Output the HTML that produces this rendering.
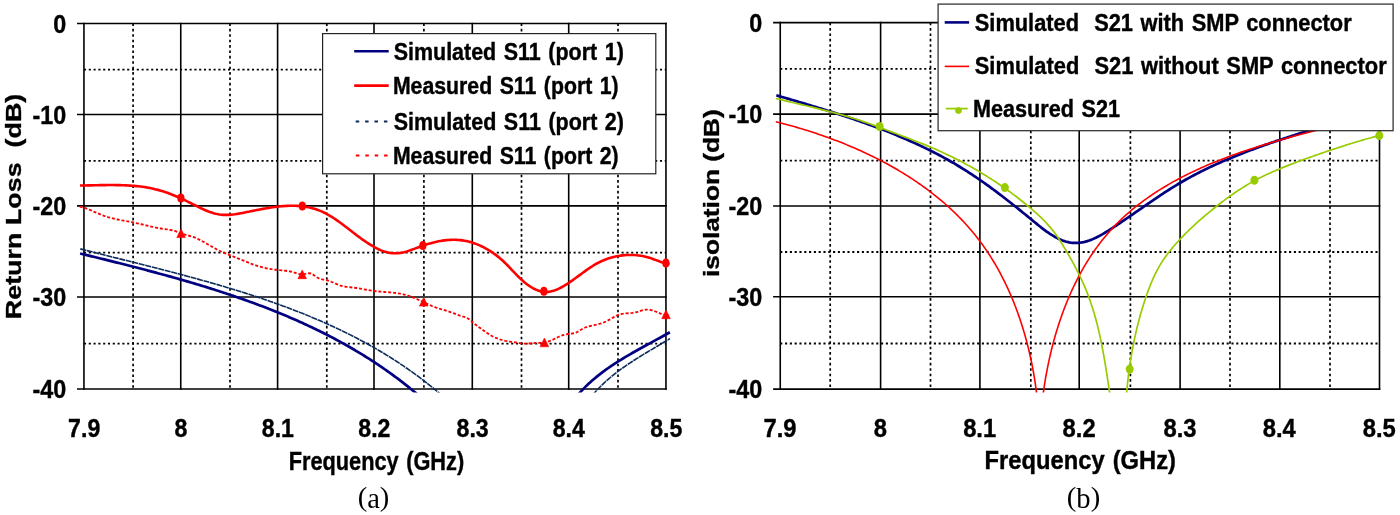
<!DOCTYPE html>
<html><head><meta charset="utf-8"><title>S-parameter charts</title>
<style>html,body{margin:0;padding:0;background:#fff;width:1400px;height:515px;overflow:hidden}svg{display:block}</style>
</head><body>
<svg width="1400" height="515" viewBox="0 0 1400 515">
<defs>
<clipPath id="cl"><rect x="70" y="0" width="602" height="392.6"/></clipPath>
<clipPath id="cr"><rect x="770" y="0" width="620" height="392.6"/></clipPath>
<filter id="soft" x="0" y="0" width="100%" height="100%" filterUnits="userSpaceOnUse"><feGaussianBlur stdDeviation="0.4"/></filter>
</defs>
<style>
.mj{stroke:#000;stroke-width:1.6;fill:none}
.mn{stroke:#000;stroke-width:1.7;stroke-dasharray:2.6 2.8;fill:none}
.mnh{stroke:#000;stroke-width:1.8;stroke-dasharray:2.1 2.7;fill:none}
</style>
<rect width="1400" height="515" fill="#fff"/>
<g filter="url(#soft)">
<line x1="133.10" y1="23.43" x2="133.10" y2="389.00" class="mn"/>
<line x1="230.00" y1="23.43" x2="230.00" y2="389.00" class="mn"/>
<line x1="326.80" y1="23.43" x2="326.80" y2="389.00" class="mn"/>
<line x1="423.90" y1="23.43" x2="423.90" y2="389.00" class="mn"/>
<line x1="521.50" y1="23.43" x2="521.50" y2="389.00" class="mn"/>
<line x1="618.00" y1="23.43" x2="618.00" y2="389.00" class="mn"/>
<line x1="83.95" y1="69.60" x2="665.95" y2="69.60" class="mnh"/>
<line x1="83.95" y1="160.80" x2="665.95" y2="160.80" class="mnh"/>
<line x1="83.95" y1="252.70" x2="665.95" y2="252.70" class="mnh"/>
<line x1="83.95" y1="343.70" x2="665.95" y2="343.70" class="mnh"/>
<line x1="83.95" y1="22.63" x2="83.95" y2="389.80" class="mj"/>
<line x1="180.75" y1="22.63" x2="180.75" y2="389.80" class="mj"/>
<line x1="277.60" y1="22.63" x2="277.60" y2="389.80" class="mj"/>
<line x1="374.00" y1="22.63" x2="374.00" y2="389.80" class="mj"/>
<line x1="472.30" y1="22.63" x2="472.30" y2="389.80" class="mj"/>
<line x1="568.70" y1="22.63" x2="568.70" y2="389.80" class="mj"/>
<line x1="665.95" y1="22.63" x2="665.95" y2="389.80" class="mj"/>
<line x1="77.00" y1="23.43" x2="666.75" y2="23.43" class="mj"/>
<line x1="77.00" y1="114.56" x2="666.75" y2="114.56" class="mj"/>
<line x1="77.00" y1="205.85" x2="666.75" y2="205.85" class="mj"/>
<line x1="77.00" y1="297.00" x2="666.75" y2="297.00" class="mj"/>
<line x1="77.00" y1="389.00" x2="666.75" y2="389.00" class="mj"/>
<line x1="830.20" y1="22.67" x2="830.20" y2="389.10" class="mn"/>
<line x1="930.50" y1="22.67" x2="930.50" y2="389.10" class="mn"/>
<line x1="1030.80" y1="22.67" x2="1030.80" y2="389.10" class="mn"/>
<line x1="1130.40" y1="22.67" x2="1130.40" y2="389.10" class="mn"/>
<line x1="1230.00" y1="22.67" x2="1230.00" y2="389.10" class="mn"/>
<line x1="1330.00" y1="22.67" x2="1330.00" y2="389.10" class="mn"/>
<line x1="780.25" y1="68.90" x2="1379.50" y2="68.90" class="mnh"/>
<line x1="780.25" y1="160.60" x2="1379.50" y2="160.60" class="mnh"/>
<line x1="780.25" y1="252.00" x2="1379.50" y2="252.00" class="mnh"/>
<line x1="780.25" y1="343.50" x2="1379.50" y2="343.50" class="mnh"/>
<line x1="780.25" y1="21.87" x2="780.25" y2="389.90" class="mj"/>
<line x1="880.60" y1="21.87" x2="880.60" y2="389.90" class="mj"/>
<line x1="979.90" y1="21.87" x2="979.90" y2="389.90" class="mj"/>
<line x1="1079.20" y1="21.87" x2="1079.20" y2="389.90" class="mj"/>
<line x1="1180.10" y1="21.87" x2="1180.10" y2="389.90" class="mj"/>
<line x1="1279.80" y1="21.87" x2="1279.80" y2="389.90" class="mj"/>
<line x1="1379.50" y1="21.87" x2="1379.50" y2="389.90" class="mj"/>
<line x1="773.10" y1="22.67" x2="1380.30" y2="22.67" class="mj"/>
<line x1="773.10" y1="114.15" x2="1380.30" y2="114.15" class="mj"/>
<line x1="773.10" y1="206.03" x2="1380.30" y2="206.03" class="mj"/>
<line x1="773.10" y1="296.80" x2="1380.30" y2="296.80" class="mj"/>
<line x1="773.10" y1="389.10" x2="1380.30" y2="389.10" class="mj"/>
<g clip-path="url(#cl)">
<path d="M80.29,248.90 L82.21,249.39 L84.13,249.88 L86.05,250.37 L87.97,250.86 L89.89,251.35 L91.82,251.84 L93.74,252.32 L95.67,252.81 L97.60,253.30 L99.53,253.78 L101.46,254.27 L103.40,254.76 L105.33,255.24 L107.26,255.73 L109.20,256.21 L111.14,256.70 L113.08,257.18 L115.02,257.67 L116.96,258.15 L118.90,258.64 L120.84,259.12 L122.78,259.61 L124.73,260.10 L126.67,260.58 L128.62,261.07 L130.56,261.56 L132.51,262.05 L134.46,262.54 L136.41,263.03 L138.35,263.52 L140.30,264.01 L142.25,264.50 L144.20,264.99 L146.15,265.49 L148.11,265.98 L150.06,266.48 L152.01,266.97 L153.96,267.47 L155.91,267.97 L157.87,268.47 L159.82,268.97 L161.77,269.48 L163.72,269.98 L165.68,270.49 L167.63,270.99 L169.58,271.50 L171.54,272.01 L173.49,272.52 L175.44,273.04 L177.39,273.55 L179.35,274.07 L181.30,274.59 L183.25,275.11 L185.20,275.63 L187.15,276.16 L189.11,276.69 L191.06,277.22 L193.01,277.75 L194.96,278.28 L196.91,278.82 L198.85,279.36 L200.80,279.90 L202.75,280.44 L204.70,280.99 L206.64,281.53 L208.59,282.08 L210.53,282.64 L212.48,283.19 L214.42,283.75 L216.36,284.32 L218.31,284.88 L220.25,285.45 L222.19,286.02 L224.12,286.59 L226.06,287.17 L228.00,287.75 L229.93,288.33 L231.87,288.92 L233.80,289.51 L235.73,290.10 L237.66,290.70 L239.59,291.30 L241.52,291.90 L243.45,292.51 L245.37,293.12 L247.30,293.73 L249.22,294.35 L251.14,294.97 L253.06,295.59 L254.98,296.22 L256.89,296.86 L258.81,297.49 L260.72,298.13 L262.63,298.78 L264.54,299.43 L266.45,300.08 L268.35,300.74 L270.26,301.40 L272.16,302.07 L274.06,302.74 L275.95,303.41 L277.85,304.09 L279.74,304.78 L281.64,305.46 L283.53,306.16 L285.41,306.86 L287.30,307.56 L289.18,308.27 L291.06,308.98 L292.94,309.70 L294.82,310.42 L296.69,311.15 L298.56,311.88 L300.43,312.62 L302.30,313.36 L304.16,314.11 L306.02,314.86 L307.88,315.62 L309.74,316.38 L311.59,317.15 L313.44,317.93 L315.29,318.71 L317.14,319.49 L318.98,320.28 L320.82,321.08 L322.66,321.88 L324.49,322.69 L326.32,323.51 L328.15,324.33 L329.97,325.16 L331.80,325.99 L333.62,326.83 L335.43,327.67 L337.24,328.52 L339.05,329.38 L340.86,330.24 L342.66,331.11 L344.46,331.99 L346.26,332.87 L348.05,333.76 L349.84,334.66 L351.63,335.56 L353.41,336.47 L355.19,337.38 L356.96,338.31 L358.74,339.24 L360.50,340.17 L362.27,341.11 L364.03,342.06 L365.79,343.02 L367.54,343.99 L369.29,344.96 L371.04,345.94 L372.78,346.92 L374.52,347.91 L376.25,348.91 L377.98,349.92 L379.71,350.94 L381.43,351.96 L383.15,352.99 L384.86,354.03 L386.57,355.07 L388.28,356.12 L389.98,357.19 L391.67,358.25 L393.37,359.33 L395.05,360.41 L396.74,361.51 L398.42,362.61 L400.09,363.72 L401.76,364.83 L403.43,365.96 L405.09,367.09 L406.75,368.23 L408.40,369.38 L410.05,370.54 L411.69,371.70 L413.33,372.88 L414.96,374.06 L416.59,375.25 L418.22,376.45 L419.83,377.66 L421.45,378.88 L423.06,380.11 L424.66,381.34 L426.26,382.59 L427.85,383.84 L429.44,385.10 L431.03,386.38 L432.60,387.66 L434.18,388.95 L435.75,390.25 L437.31,391.55 L438.87,392.87 L440.42,394.20" stroke="#0b2b5b" stroke-width="1.6" stroke-dasharray="6 0.7" fill="none"/>
<path d="M592.57,395.09 L593.91,393.51 L595.28,391.96 L596.66,390.43 L598.07,388.93 L599.50,387.45 L600.95,386.00 L602.42,384.57 L603.91,383.16 L605.41,381.78 L606.93,380.41 L608.47,379.07 L610.03,377.74 L611.60,376.43 L613.19,375.15 L614.79,373.88 L616.40,372.62 L618.03,371.39 L619.67,370.17 L621.32,368.96 L622.98,367.77 L624.66,366.59 L626.34,365.43 L628.04,364.28 L629.74,363.14 L631.45,362.01 L633.17,360.89 L634.89,359.78 L636.63,358.68 L638.37,357.59 L640.11,356.50 L641.86,355.43 L643.61,354.36 L645.37,353.29 L647.13,352.23 L648.89,351.18 L650.65,350.12 L652.42,349.07 L654.18,348.03 L655.95,346.98 L657.71,345.94 L659.47,344.89 L661.24,343.85 L662.99,342.80 L664.75,341.76 L666.50,340.71 L668.25,339.65 L669.99,338.60" stroke="#0b2b5b" stroke-width="1.6" stroke-dasharray="6 0.7" fill="none"/>
<path d="M80.12,253.49 L82.05,253.96 L83.98,254.43 L85.91,254.90 L87.84,255.38 L89.77,255.85 L91.71,256.32 L93.64,256.80 L95.58,257.27 L97.51,257.75 L99.45,258.23 L101.39,258.71 L103.33,259.18 L105.27,259.67 L107.21,260.15 L109.15,260.63 L111.10,261.11 L113.04,261.60 L114.98,262.08 L116.93,262.57 L118.87,263.06 L120.82,263.55 L122.76,264.04 L124.71,264.53 L126.66,265.03 L128.60,265.52 L130.55,266.02 L132.50,266.52 L134.44,267.02 L136.39,267.52 L138.34,268.03 L140.29,268.54 L142.24,269.04 L144.19,269.55 L146.13,270.07 L148.08,270.58 L150.03,271.10 L151.98,271.61 L153.93,272.13 L155.88,272.66 L157.82,273.18 L159.77,273.71 L161.72,274.24 L163.67,274.77 L165.61,275.30 L167.56,275.84 L169.50,276.38 L171.45,276.92 L173.39,277.47 L175.34,278.01 L177.28,278.56 L179.23,279.12 L181.17,279.67 L183.11,280.23 L185.05,280.79 L186.99,281.35 L188.93,281.92 L190.87,282.49 L192.81,283.06 L194.75,283.64 L196.69,284.22 L198.62,284.80 L200.56,285.39 L202.49,285.98 L204.42,286.57 L206.36,287.16 L208.29,287.76 L210.22,288.37 L212.14,288.97 L214.07,289.58 L216.00,290.20 L217.92,290.81 L219.85,291.43 L221.77,292.06 L223.69,292.68 L225.61,293.32 L227.52,293.95 L229.44,294.59 L231.36,295.24 L233.27,295.88 L235.18,296.54 L237.09,297.19 L239.00,297.85 L240.90,298.52 L242.81,299.18 L244.71,299.86 L246.61,300.53 L248.51,301.21 L250.41,301.90 L252.30,302.59 L254.20,303.29 L256.09,303.98 L257.98,304.69 L259.87,305.40 L261.75,306.11 L263.63,306.83 L265.52,307.55 L267.39,308.28 L269.27,309.01 L271.15,309.75 L273.02,310.49 L274.89,311.24 L276.75,311.99 L278.62,312.75 L280.48,313.51 L282.34,314.28 L284.20,315.05 L286.05,315.83 L287.91,316.61 L289.75,317.40 L291.60,318.20 L293.45,319.00 L295.29,319.80 L297.13,320.61 L298.96,321.43 L300.79,322.25 L302.62,323.08 L304.45,323.91 L306.28,324.75 L308.10,325.60 L309.92,326.45 L311.73,327.31 L313.54,328.17 L315.35,329.04 L317.16,329.91 L318.96,330.80 L320.76,331.68 L322.56,332.58 L324.35,333.48 L326.14,334.38 L327.92,335.29 L329.71,336.21 L331.49,337.14 L333.26,338.07 L335.03,339.01 L336.80,339.95 L338.57,340.90 L340.33,341.86 L342.09,342.83 L343.84,343.80 L345.59,344.77 L347.34,345.76 L349.08,346.75 L350.82,347.75 L352.55,348.76 L354.29,349.77 L356.01,350.79 L357.74,351.81 L359.46,352.85 L361.17,353.89 L362.88,354.94 L364.59,355.99 L366.29,357.06 L367.99,358.13 L369.68,359.20 L371.37,360.29 L373.06,361.38 L374.74,362.48 L376.42,363.59 L378.09,364.70 L379.76,365.83 L381.42,366.96 L383.08,368.10 L384.74,369.24 L386.39,370.40 L388.03,371.56 L389.67,372.73 L391.31,373.91 L392.94,375.09 L394.57,376.29 L396.19,377.49 L397.81,378.70 L399.42,379.92 L401.03,381.15 L402.63,382.38 L404.23,383.63 L405.82,384.88 L407.41,386.14 L408.99,387.41 L410.56,388.69 L412.14,389.97 L413.70,391.27 L415.27,392.57 L416.82,393.88 L418.37,395.20" stroke="#000080" stroke-width="2.7" fill="none"/>
<path d="M577.43,395.45 L578.78,393.88 L580.16,392.34 L581.55,390.82 L582.97,389.33 L584.40,387.86 L585.85,386.41 L587.33,384.98 L588.82,383.58 L590.33,382.20 L591.85,380.84 L593.39,379.50 L594.95,378.18 L596.52,376.88 L598.11,375.60 L599.72,374.33 L601.33,373.09 L602.96,371.86 L604.61,370.65 L606.26,369.45 L607.93,368.27 L609.61,367.10 L611.30,365.95 L613.00,364.81 L614.71,363.69 L616.43,362.57 L618.16,361.47 L619.90,360.38 L621.64,359.31 L623.39,358.24 L625.15,357.18 L626.92,356.13 L628.69,355.09 L630.47,354.06 L632.25,353.03 L634.03,352.02 L635.82,351.01 L637.61,350.00 L639.41,349.00 L641.21,348.01 L643.01,347.02 L644.81,346.03 L646.61,345.05 L648.41,344.07 L650.21,343.09 L652.01,342.11 L653.81,341.13 L655.60,340.16 L657.40,339.18 L659.19,338.20 L660.98,337.23 L662.76,336.25 L664.54,335.26 L666.32,334.28 L668.09,333.29 L669.85,332.30" stroke="#000080" stroke-width="2.7" fill="none"/>
<path d="M79.70,206.61 L81.65,207.07 L83.58,207.62 L85.49,208.24 L87.38,208.92 L89.26,209.65 L91.12,210.43 L92.98,211.23 L94.83,212.04 L96.68,212.85 L98.54,213.66 L100.40,214.45 L102.27,215.20 L104.15,215.90 L106.05,216.55 L107.96,217.15 L109.88,217.70 L111.82,218.20 L113.77,218.67 L115.72,219.11 L117.69,219.52 L119.66,219.92 L121.63,220.29 L123.61,220.66 L125.59,221.02 L127.56,221.38 L129.54,221.75 L131.52,222.12 L133.49,222.52 L135.46,222.93 L137.42,223.36 L139.38,223.80 L141.33,224.25 L143.29,224.71 L145.24,225.17 L147.20,225.63 L149.16,226.08 L151.11,226.53 L153.07,226.97 L155.04,227.39 L157.01,227.79 L158.98,228.18 L160.96,228.53 L162.94,228.87 L164.94,229.17 L166.94,229.43 L168.94,229.70 L170.92,230.01 L172.88,230.41 L174.79,230.95 L176.67,231.62 L178.52,232.36 L180.38,233.10 L182.26,233.78 L184.18,234.37 L186.11,234.92 L188.05,235.44 L189.98,235.99 L191.90,236.57 L193.79,237.24 L195.64,237.97 L197.47,238.77 L199.28,239.63 L201.07,240.54 L202.85,241.49 L204.61,242.47 L206.37,243.47 L208.12,244.49 L209.86,245.51 L211.62,246.52 L213.37,247.52 L215.14,248.50 L216.91,249.45 L218.71,250.36 L220.52,251.23 L222.34,252.06 L224.18,252.86 L226.03,253.64 L227.88,254.39 L229.75,255.13 L231.62,255.86 L233.49,256.59 L235.36,257.31 L237.24,258.05 L239.11,258.79 L240.98,259.54 L242.84,260.31 L244.70,261.08 L246.57,261.86 L248.43,262.62 L250.30,263.37 L252.18,264.10 L254.06,264.79 L255.96,265.45 L257.87,266.06 L259.79,266.63 L261.73,267.15 L263.67,267.64 L265.63,268.08 L267.59,268.48 L269.56,268.85 L271.54,269.18 L273.53,269.47 L275.52,269.74 L277.52,269.97 L279.52,270.18 L281.52,270.37 L283.53,270.57 L285.52,270.79 L287.52,271.05 L289.50,271.36 L291.47,271.75 L293.44,272.22 L295.38,272.80 L297.31,273.45 L299.25,274.02 L301.20,274.36 L303.19,274.31 L305.19,273.92 L307.18,273.47 L309.10,273.24 L310.91,273.50 L312.63,274.29 L314.30,275.42 L315.97,276.67 L317.70,277.81 L319.52,278.67 L321.45,279.22 L323.43,279.61 L325.43,279.97 L327.39,280.42 L329.31,281.03 L331.19,281.74 L333.06,282.52 L334.90,283.34 L336.75,284.14 L338.61,284.90 L340.50,285.57 L342.41,286.11 L344.37,286.52 L346.35,286.82 L348.35,287.06 L350.36,287.27 L352.37,287.47 L354.38,287.71 L356.38,287.99 L358.37,288.30 L360.35,288.64 L362.33,289.00 L364.31,289.37 L366.28,289.73 L368.26,290.09 L370.23,290.43 L372.22,290.75 L374.20,291.03 L376.20,291.27 L378.19,291.48 L380.20,291.66 L382.20,291.82 L384.21,291.96 L386.22,292.11 L388.23,292.26 L390.23,292.42 L392.24,292.60 L394.23,292.81 L396.22,293.06 L398.21,293.34 L400.18,293.68 L402.15,294.08 L404.10,294.53 L406.04,295.04 L407.96,295.61 L409.87,296.23 L411.76,296.91 L413.63,297.64 L415.49,298.41 L417.33,299.23 L419.16,300.06 L420.99,300.92 L422.81,301.79 L424.63,302.67 L426.45,303.53 L428.28,304.38 L430.11,305.21 L431.96,306.01 L433.82,306.76 L435.69,307.47 L437.59,308.12 L439.50,308.71 L441.43,309.28 L443.36,309.83 L445.29,310.39 L447.21,310.98 L449.12,311.61 L451.02,312.29 L452.90,313.00 L454.78,313.72 L456.66,314.44 L458.55,315.13 L460.45,315.78 L462.37,316.38 L464.31,316.93 L466.18,317.57 L467.94,318.46 L469.56,319.60 L471.12,320.90 L472.64,322.24 L474.18,323.54 L475.75,324.79 L477.33,326.00 L478.94,327.19 L480.56,328.36 L482.19,329.55 L483.83,330.73 L485.49,331.89 L487.17,333.04 L488.86,334.14 L490.59,335.20 L492.33,336.20 L494.11,337.13 L495.92,337.97 L497.77,338.72 L499.65,339.37 L501.56,339.94 L503.50,340.42 L505.46,340.84 L507.44,341.21 L509.43,341.55 L511.43,341.85 L513.43,342.14 L515.43,342.43 L517.43,342.73 L519.41,343.05 L521.39,343.35 L523.36,343.58 L525.35,343.66 L527.34,343.61 L529.34,343.46 L531.36,343.27 L533.37,343.08 L535.40,342.94 L537.42,342.89 L539.45,342.87 L541.45,342.82 L543.43,342.68 L545.37,342.37 L547.28,341.88 L549.15,341.24 L551.00,340.49 L552.84,339.66 L554.67,338.78 L556.50,337.88 L558.35,337.00 L560.21,336.17 L562.09,335.43 L564.01,334.81 L565.97,334.34 L567.98,334.02 L570.00,333.78 L572.00,333.53 L573.97,333.17 L575.86,332.62 L577.66,331.80 L579.39,330.76 L581.10,329.66 L582.83,328.61 L584.64,327.75 L586.51,327.04 L588.44,326.47 L590.39,325.98 L592.38,325.55 L594.36,325.14 L596.34,324.71 L598.29,324.22 L600.21,323.66 L602.11,323.01 L603.97,322.29 L605.81,321.49 L607.63,320.62 L609.42,319.68 L611.21,318.67 L612.98,317.62 L614.76,316.58 L616.56,315.63 L618.40,314.82 L620.29,314.20 L622.23,313.79 L624.21,313.52 L626.21,313.35 L628.22,313.23 L630.24,313.11 L632.25,312.94 L634.24,312.68 L636.20,312.27 L638.11,311.69 L640.01,311.04 L641.92,310.42 L643.85,309.94 L645.82,309.68 L647.81,309.65 L649.79,309.83 L651.74,310.22 L653.65,310.80 L655.53,311.50 L657.40,312.27 L659.26,313.06 L661.14,313.81 L663.05,314.46 L664.99,314.95 L666.99,315.25 L669.04,315.34" stroke="#ff0000" stroke-width="1.85" stroke-dasharray="3 1.9" fill="none"/>
<path d="M80.01,185.52 L81.93,185.51 L83.87,185.48 L85.81,185.45 L87.77,185.42 L89.74,185.38 L91.72,185.34 L93.70,185.30 L95.70,185.25 L97.70,185.21 L99.71,185.17 L101.72,185.14 L103.74,185.11 L105.77,185.08 L107.80,185.07 L109.83,185.05 L111.87,185.05 L113.91,185.06 L115.95,185.08 L117.99,185.11 L120.03,185.15 L122.07,185.21 L124.11,185.28 L126.15,185.37 L128.18,185.47 L130.21,185.60 L132.24,185.74 L134.27,185.91 L136.29,186.09 L138.30,186.30 L140.30,186.53 L142.30,186.79 L144.29,187.07 L146.28,187.39 L148.25,187.72 L150.21,188.09 L152.17,188.49 L154.11,188.92 L156.04,189.39 L157.95,189.88 L159.86,190.41 L161.75,190.97 L163.64,191.56 L165.51,192.18 L167.38,192.83 L169.24,193.51 L171.09,194.22 L172.94,194.95 L174.78,195.70 L176.62,196.48 L178.45,197.28 L180.29,198.10 L182.12,198.94 L183.95,199.80 L185.78,200.68 L187.62,201.58 L189.45,202.49 L191.29,203.42 L193.13,204.35 L194.97,205.28 L196.82,206.21 L198.67,207.12 L200.53,208.01 L202.39,208.88 L204.25,209.71 L206.12,210.51 L207.99,211.26 L209.87,211.95 L211.76,212.59 L213.65,213.17 L215.54,213.67 L217.44,214.09 L219.35,214.43 L221.26,214.69 L223.19,214.85 L225.11,214.92 L227.05,214.92 L228.99,214.84 L230.93,214.71 L232.89,214.51 L234.84,214.27 L236.81,213.97 L238.78,213.65 L240.75,213.29 L242.74,212.91 L244.72,212.51 L246.72,212.10 L248.71,211.69 L250.71,211.27 L252.72,210.86 L254.73,210.46 L256.75,210.06 L258.76,209.66 L260.78,209.28 L262.80,208.90 L264.82,208.54 L266.85,208.19 L268.87,207.86 L270.89,207.55 L272.91,207.25 L274.93,206.98 L276.95,206.73 L278.96,206.51 L280.97,206.31 L282.98,206.14 L284.98,206.00 L286.98,205.89 L288.97,205.82 L290.96,205.78 L292.94,205.78 L294.92,205.82 L296.88,205.90 L298.84,206.02 L300.79,206.18 L302.73,206.40 L304.66,206.65 L306.58,206.96 L308.49,207.32 L310.39,207.74 L312.28,208.20 L314.16,208.73 L316.02,209.31 L317.87,209.95 L319.70,210.66 L321.52,211.42 L323.33,212.25 L325.12,213.14 L326.90,214.08 L328.66,215.07 L330.42,216.10 L332.16,217.17 L333.88,218.28 L335.60,219.43 L337.30,220.60 L339.00,221.80 L340.68,223.02 L342.35,224.26 L344.01,225.50 L345.66,226.76 L347.30,228.02 L348.93,229.29 L350.56,230.55 L352.17,231.80 L353.78,233.04 L355.38,234.26 L356.97,235.47 L358.56,236.65 L360.14,237.81 L361.73,238.95 L363.32,240.07 L364.92,241.16 L366.54,242.24 L368.17,243.30 L369.83,244.34 L371.51,245.36 L373.23,246.36 L374.98,247.35 L376.77,248.31 L378.59,249.23 L380.44,250.08 L382.33,250.86 L384.24,251.53 L386.19,252.10 L388.16,252.55 L390.14,252.89 L392.14,253.12 L394.14,253.23 L396.14,253.24 L398.13,253.14 L400.11,252.93 L402.07,252.62 L404.00,252.20 L405.92,251.71 L407.82,251.13 L409.71,250.51 L411.60,249.83 L413.48,249.13 L415.36,248.41 L417.25,247.68 L419.15,246.97 L421.06,246.27 L422.98,245.60 L424.91,244.96 L426.85,244.34 L428.79,243.75 L430.75,243.19 L432.71,242.67 L434.68,242.18 L436.65,241.73 L438.62,241.32 L440.60,240.96 L442.59,240.64 L444.57,240.36 L446.56,240.14 L448.54,239.97 L450.53,239.85 L452.51,239.78 L454.50,239.78 L456.48,239.83 L458.45,239.95 L460.43,240.13 L462.39,240.38 L464.35,240.70 L466.31,241.08 L468.25,241.52 L470.19,242.03 L472.11,242.59 L474.02,243.22 L475.91,243.90 L477.79,244.64 L479.65,245.42 L481.50,246.26 L483.32,247.15 L485.12,248.09 L486.90,249.08 L488.66,250.11 L490.39,251.18 L492.09,252.29 L493.77,253.44 L495.42,254.63 L497.03,255.86 L498.62,257.12 L500.17,258.41 L501.68,259.73 L503.16,261.08 L504.61,262.46 L506.03,263.86 L507.43,265.27 L508.81,266.70 L510.18,268.14 L511.54,269.58 L512.91,271.03 L514.27,272.47 L515.65,273.91 L517.04,275.34 L518.45,276.75 L519.88,278.14 L521.35,279.51 L522.84,280.86 L524.38,282.17 L525.97,283.45 L527.60,284.69 L529.28,285.88 L531.00,287.00 L532.75,288.04 L534.54,288.99 L536.36,289.83 L538.20,290.56 L540.06,291.14 L541.93,291.58 L543.81,291.85 L545.69,291.96 L547.58,291.89 L549.47,291.67 L551.35,291.30 L553.23,290.81 L555.10,290.19 L556.97,289.47 L558.82,288.64 L560.66,287.74 L562.48,286.76 L564.29,285.71 L566.07,284.62 L567.84,283.49 L569.58,282.34 L571.29,281.16 L572.98,279.97 L574.65,278.77 L576.31,277.57 L577.95,276.36 L579.59,275.15 L581.22,273.95 L582.84,272.76 L584.46,271.58 L586.09,270.41 L587.72,269.26 L589.36,268.14 L591.01,267.04 L592.68,265.98 L594.36,264.95 L596.06,263.95 L597.79,263.00 L599.54,262.09 L601.32,261.24 L603.14,260.43 L604.98,259.68 L606.85,258.98 L608.75,258.33 L610.66,257.74 L612.60,257.21 L614.56,256.73 L616.53,256.30 L618.52,255.93 L620.52,255.62 L622.53,255.37 L624.54,255.17 L626.56,255.03 L628.59,254.95 L630.61,254.93 L632.63,254.97 L634.65,255.07 L636.66,255.23 L638.66,255.46 L640.66,255.74 L642.64,256.08 L644.60,256.49 L646.55,256.96 L648.48,257.50 L650.39,258.10 L652.28,258.75 L654.15,259.43 L656.02,260.14 L657.90,260.83 L659.78,261.51 L661.67,262.14 L663.59,262.71 L665.54,263.20 L667.52,263.59 L669.54,263.87" stroke="#ff0000" stroke-width="2.6" fill="none"/>
</g>
<ellipse cx="180.9" cy="198.1" rx="3.6" ry="4.5" fill="#ff0000"/>
<ellipse cx="302.3" cy="206.1" rx="3.6" ry="4.5" fill="#ff0000"/>
<ellipse cx="422.9" cy="245.6" rx="3.6" ry="4.5" fill="#ff0000"/>
<ellipse cx="543.9" cy="291.3" rx="3.6" ry="4.5" fill="#ff0000"/>
<ellipse cx="665.9" cy="262.9" rx="3.6" ry="4.5" fill="#ff0000"/>
<path d="M181.1,228.9 L185.4,237.6 L176.8,237.6Z" fill="#ff0000" stroke="#ff0000" stroke-width="0.6" stroke-linejoin="round"/>
<path d="M302.2,270.0 L306.5,278.7 L297.9,278.7Z" fill="#ff0000" stroke="#ff0000" stroke-width="0.6" stroke-linejoin="round"/>
<path d="M423.7,297.4 L428.0,306.1 L419.4,306.1Z" fill="#ff0000" stroke="#ff0000" stroke-width="0.6" stroke-linejoin="round"/>
<path d="M544.4,338.0 L548.7,346.7 L540.1,346.7Z" fill="#ff0000" stroke="#ff0000" stroke-width="0.6" stroke-linejoin="round"/>
<path d="M666,310.0 L670.3,318.7 L661.7,318.7Z" fill="#ff0000" stroke="#ff0000" stroke-width="0.6" stroke-linejoin="round"/>
<g clip-path="url(#cr)">
<path d="M776.34,95.32 L778.22,95.87 L780.09,96.41 L781.97,96.96 L783.86,97.51 L785.74,98.06 L787.63,98.61 L789.52,99.16 L791.41,99.72 L793.31,100.27 L795.20,100.83 L797.10,101.39 L799.01,101.95 L800.91,102.52 L802.81,103.09 L804.72,103.65 L806.63,104.23 L808.54,104.80 L810.45,105.38 L812.36,105.95 L814.28,106.54 L816.19,107.12 L818.11,107.71 L820.02,108.30 L821.94,108.89 L823.86,109.49 L825.78,110.08 L827.70,110.69 L829.62,111.29 L831.54,111.90 L833.46,112.51 L835.38,113.13 L837.30,113.75 L839.22,114.37 L841.14,114.99 L843.06,115.62 L844.98,116.26 L846.89,116.90 L848.81,117.54 L850.73,118.18 L852.65,118.83 L854.56,119.49 L856.48,120.15 L858.39,120.81 L860.30,121.48 L862.21,122.15 L864.12,122.83 L866.03,123.51 L867.93,124.19 L869.84,124.88 L871.74,125.58 L873.64,126.28 L875.54,126.99 L877.43,127.70 L879.33,128.41 L881.22,129.13 L883.11,129.86 L884.99,130.59 L886.88,131.33 L888.76,132.07 L890.64,132.82 L892.51,133.58 L894.38,134.34 L896.25,135.10 L898.12,135.88 L899.98,136.66 L901.84,137.44 L903.69,138.23 L905.55,139.03 L907.39,139.83 L909.24,140.64 L911.08,141.46 L912.91,142.28 L914.74,143.11 L916.57,143.95 L918.39,144.79 L920.21,145.64 L922.02,146.50 L923.83,147.36 L925.64,148.23 L927.43,149.11 L929.23,150.00 L931.02,150.89 L932.80,151.79 L934.58,152.70 L936.35,153.61 L938.12,154.54 L939.88,155.47 L941.64,156.41 L943.39,157.35 L945.13,158.31 L946.87,159.27 L948.60,160.24 L950.33,161.22 L952.05,162.21 L953.76,163.20 L955.46,164.20 L957.16,165.22 L958.86,166.24 L960.54,167.27 L962.23,168.30 L963.90,169.35 L965.57,170.40 L967.23,171.46 L968.89,172.53 L970.55,173.61 L972.20,174.70 L973.84,175.79 L975.48,176.89 L977.12,178.00 L978.75,179.12 L980.38,180.24 L982.01,181.37 L983.63,182.51 L985.25,183.66 L986.87,184.81 L988.48,185.97 L990.09,187.14 L991.70,188.32 L993.31,189.50 L994.91,190.69 L996.52,191.89 L998.12,193.09 L999.72,194.30 L1001.32,195.52 L1002.92,196.75 L1004.52,197.98 L1006.12,199.22 L1007.72,200.46 L1009.32,201.71 L1010.92,202.97 L1012.52,204.23 L1014.12,205.50 L1015.72,206.78 L1017.32,208.06 L1018.93,209.35 L1020.53,210.64 L1022.14,211.94 L1023.75,213.25 L1025.36,214.56 L1026.98,215.88 L1028.59,217.21 L1030.21,218.54 L1031.84,219.87 L1033.46,221.21 L1035.09,222.55 L1036.73,223.89 L1038.37,225.21 L1040.01,226.52 L1041.66,227.82 L1043.31,229.09 L1044.98,230.33 L1046.64,231.54 L1048.32,232.71 L1050.00,233.85 L1051.69,234.94 L1053.39,235.97 L1055.09,236.96 L1056.81,237.88 L1058.53,238.74 L1060.26,239.54 L1062.01,240.25 L1063.76,240.90 L1065.53,241.46 L1067.30,241.93 L1069.09,242.32 L1070.89,242.61 L1072.70,242.80 L1074.52,242.91 L1076.34,242.92 L1078.17,242.84 L1080.01,242.67 L1081.84,242.42 L1083.67,242.08 L1085.50,241.65 L1087.33,241.13 L1089.15,240.54 L1090.97,239.87 L1092.78,239.13 L1094.59,238.33 L1096.39,237.47 L1098.19,236.56 L1099.98,235.60 L1101.77,234.60 L1103.54,233.57 L1105.32,232.51 L1107.08,231.42 L1108.84,230.31 L1110.59,229.19 L1112.33,228.06 L1114.07,226.93 L1115.79,225.79 L1117.51,224.66 L1119.23,223.51 L1120.94,222.37 L1122.64,221.22 L1124.33,220.07 L1126.03,218.91 L1127.71,217.76 L1129.40,216.61 L1131.07,215.45 L1132.75,214.29 L1134.42,213.14 L1136.09,211.98 L1137.75,210.83 L1139.42,209.67 L1141.08,208.52 L1142.74,207.37 L1144.40,206.22 L1146.05,205.07 L1147.71,203.93 L1149.37,202.79 L1151.02,201.65 L1152.68,200.52 L1154.34,199.39 L1156.00,198.27 L1157.66,197.15 L1159.32,196.04 L1160.98,194.93 L1162.65,193.83 L1164.32,192.74 L1165.99,191.65 L1167.67,190.57 L1169.35,189.50 L1171.04,188.44 L1172.73,187.38 L1174.42,186.33 L1176.12,185.29 L1177.82,184.27 L1179.54,183.25 L1181.25,182.24 L1182.98,181.24 L1184.71,180.25 L1186.44,179.27 L1188.19,178.31 L1189.94,177.35 L1191.69,176.40 L1193.45,175.46 L1195.21,174.53 L1196.99,173.61 L1198.76,172.69 L1200.54,171.79 L1202.33,170.90 L1204.12,170.01 L1205.92,169.13 L1207.72,168.26 L1209.53,167.40 L1211.34,166.55 L1213.15,165.71 L1214.97,164.87 L1216.80,164.04 L1218.63,163.22 L1220.46,162.41 L1222.30,161.60 L1224.14,160.80 L1225.98,160.01 L1227.83,159.22 L1229.69,158.45 L1231.54,157.68 L1233.40,156.91 L1235.26,156.15 L1237.13,155.40 L1239.00,154.66 L1240.87,153.92 L1242.75,153.19 L1244.62,152.46 L1246.50,151.74 L1248.39,151.02 L1250.27,150.31 L1252.16,149.61 L1254.05,148.91 L1255.95,148.22 L1257.84,147.53 L1259.74,146.84 L1261.64,146.17 L1263.54,145.49 L1265.44,144.82 L1267.34,144.16 L1269.25,143.50 L1271.15,142.84 L1273.06,142.19 L1274.97,141.54 L1276.88,140.89 L1278.79,140.25 L1280.71,139.61 L1282.62,138.98 L1284.53,138.35 L1286.45,137.72 L1288.36,137.10 L1290.28,136.48 L1292.19,135.86 L1294.11,135.24 L1296.02,134.63 L1297.94,134.02 L1299.85,133.41 L1301.77,132.80 L1303.68,132.20 L1305.60,131.59 L1307.51,130.99 L1309.43,130.39 L1311.34,129.80 L1313.25,129.20 L1315.16,128.61 L1317.07,128.01 L1318.98,127.42 L1320.89,126.83 L1322.79,126.24 L1324.70,125.65 L1326.60,125.06 L1328.50,124.47 L1330.40,123.88 L1332.30,123.29 L1334.19,122.70 L1336.08,122.12 L1337.97,121.53 L1339.86,120.94" stroke="#000080" stroke-width="2.7" fill="none"/>
<path d="M775.86,121.72 L777.76,122.20 L779.66,122.68 L781.57,123.17 L783.47,123.67 L785.38,124.17 L787.29,124.69 L789.19,125.21 L791.10,125.74 L793.01,126.28 L794.93,126.82 L796.84,127.38 L798.75,127.94 L800.67,128.51 L802.58,129.08 L804.49,129.67 L806.41,130.26 L808.32,130.86 L810.23,131.47 L812.15,132.09 L814.06,132.71 L815.97,133.35 L817.88,133.99 L819.80,134.64 L821.71,135.30 L823.61,135.96 L825.52,136.64 L827.43,137.32 L829.33,138.01 L831.23,138.71 L833.13,139.42 L835.03,140.14 L836.93,140.87 L838.83,141.60 L840.72,142.34 L842.61,143.09 L844.50,143.86 L846.38,144.62 L848.26,145.40 L850.14,146.19 L852.02,146.98 L853.89,147.79 L855.76,148.60 L857.62,149.42 L859.48,150.25 L861.34,151.09 L863.20,151.94 L865.05,152.80 L866.89,153.66 L868.73,154.54 L870.57,155.42 L872.40,156.31 L874.23,157.22 L876.05,158.13 L877.87,159.05 L879.69,159.98 L881.49,160.92 L883.30,161.87 L885.09,162.83 L886.88,163.79 L888.67,164.77 L890.45,165.75 L892.22,166.75 L893.99,167.76 L895.75,168.77 L897.50,169.79 L899.25,170.83 L900.99,171.87 L902.73,172.92 L904.46,173.98 L906.18,175.06 L907.89,176.14 L909.60,177.23 L911.29,178.33 L912.98,179.44 L914.67,180.56 L916.34,181.69 L918.01,182.83 L919.67,183.98 L921.32,185.14 L922.96,186.31 L924.59,187.49 L926.22,188.68 L927.84,189.88 L929.44,191.09 L931.04,192.31 L932.63,193.54 L934.21,194.78 L935.78,196.03 L937.34,197.29 L938.89,198.57 L940.43,199.85 L941.96,201.14 L943.48,202.44 L944.99,203.75 L946.49,205.08 L947.98,206.41 L949.46,207.75 L950.93,209.11 L952.39,210.47 L953.83,211.85 L955.27,213.24 L956.69,214.63 L958.10,216.04 L959.50,217.46 L960.89,218.89 L962.27,220.33 L963.63,221.78 L964.98,223.24 L966.32,224.71 L967.65,226.19 L968.97,227.69 L970.27,229.19 L971.56,230.71 L972.84,232.23 L974.10,233.77 L975.35,235.32 L976.59,236.88 L977.81,238.45 L979.02,240.03 L980.22,241.62 L981.41,243.23 L982.58,244.84 L983.73,246.46 L984.88,248.10 L986.01,249.74 L987.13,251.40 L988.23,253.06 L989.32,254.73 L990.40,256.42 L991.47,258.11 L992.52,259.81 L993.56,261.52 L994.59,263.24 L995.60,264.97 L996.61,266.71 L997.60,268.45 L998.57,270.21 L999.54,271.97 L1000.49,273.74 L1001.43,275.52 L1002.35,277.30 L1003.27,279.10 L1004.17,280.90 L1005.06,282.71 L1005.93,284.52 L1006.80,286.35 L1007.65,288.18 L1008.49,290.01 L1009.32,291.86 L1010.13,293.71 L1010.94,295.56 L1011.73,297.43 L1012.51,299.30 L1013.28,301.17 L1014.03,303.05 L1014.78,304.94 L1015.51,306.83 L1016.23,308.73 L1016.94,310.63 L1017.63,312.54 L1018.32,314.45 L1018.99,316.37 L1019.65,318.29 L1020.30,320.21 L1020.94,322.14 L1021.57,324.08 L1022.19,326.02 L1022.79,327.96 L1023.38,329.91 L1023.97,331.86 L1024.54,333.81 L1025.10,335.77 L1025.64,337.73 L1026.18,339.69 L1026.71,341.66 L1027.22,343.63 L1027.73,345.60 L1028.22,347.58 L1028.70,349.55 L1029.17,351.53 L1029.63,353.51 L1030.08,355.50 L1030.52,357.48 L1030.95,359.47 L1031.37,361.46 L1031.77,363.45 L1032.17,365.44 L1032.55,367.43 L1032.93,369.42 L1033.29,371.42 L1033.65,373.41 L1033.99,375.41 L1034.32,377.40 L1034.65,379.40 L1034.96,381.40 L1035.26,383.39 L1035.55,385.39 L1035.84,387.38 L1036.11,389.38 L1036.37,391.37 L1036.62,393.36 L1036.86,395.36" stroke="#ff0000" stroke-width="1.6" fill="none"/>
<path d="M1042.98,395.22 L1043.24,393.26 L1043.51,391.29 L1043.79,389.32 L1044.09,387.35 L1044.39,385.38 L1044.70,383.41 L1045.02,381.43 L1045.35,379.46 L1045.68,377.48 L1046.03,375.50 L1046.39,373.52 L1046.76,371.54 L1047.14,369.56 L1047.53,367.58 L1047.93,365.60 L1048.34,363.62 L1048.76,361.64 L1049.19,359.65 L1049.63,357.67 L1050.08,355.70 L1050.54,353.72 L1051.01,351.74 L1051.49,349.76 L1051.98,347.79 L1052.49,345.82 L1053.00,343.85 L1053.52,341.88 L1054.06,339.91 L1054.61,337.95 L1055.16,335.99 L1055.73,334.03 L1056.31,332.07 L1056.90,330.12 L1057.50,328.17 L1058.12,326.22 L1058.74,324.28 L1059.38,322.34 L1060.02,320.41 L1060.68,318.48 L1061.35,316.56 L1062.03,314.63 L1062.73,312.72 L1063.43,310.81 L1064.15,308.90 L1064.88,307.00 L1065.62,305.11 L1066.37,303.22 L1067.14,301.33 L1067.91,299.46 L1068.70,297.58 L1069.50,295.72 L1070.32,293.86 L1071.14,292.01 L1071.98,290.16 L1072.83,288.33 L1073.70,286.50 L1074.57,284.67 L1075.46,282.86 L1076.36,281.05 L1077.27,279.25 L1078.20,277.46 L1079.14,275.68 L1080.09,273.91 L1081.06,272.14 L1082.04,270.39 L1083.03,268.64 L1084.03,266.90 L1085.05,265.18 L1086.08,263.46 L1087.13,261.75 L1088.19,260.05 L1089.26,258.36 L1090.34,256.69 L1091.44,255.02 L1092.55,253.36 L1093.68,251.72 L1094.82,250.08 L1095.97,248.46 L1097.14,246.85 L1098.32,245.25 L1099.51,243.66 L1100.72,242.09 L1101.95,240.52 L1103.18,238.97 L1104.44,237.43 L1105.70,235.91 L1106.98,234.40 L1108.28,232.90 L1109.59,231.41 L1110.91,229.94 L1112.25,228.48 L1113.60,227.03 L1114.97,225.60 L1116.35,224.18 L1117.74,222.78 L1119.15,221.39 L1120.57,220.01 L1122.01,218.65 L1123.46,217.29 L1124.92,215.96 L1126.39,214.63 L1127.88,213.32 L1129.38,212.02 L1130.89,210.73 L1132.42,209.45 L1133.95,208.19 L1135.50,206.94 L1137.06,205.70 L1138.63,204.48 L1140.22,203.27 L1141.81,202.06 L1143.41,200.88 L1145.03,199.70 L1146.65,198.53 L1148.29,197.38 L1149.94,196.24 L1151.59,195.11 L1153.26,193.99 L1154.93,192.88 L1156.62,191.78 L1158.31,190.70 L1160.02,189.62 L1161.73,188.56 L1163.45,187.51 L1165.18,186.47 L1166.92,185.44 L1168.66,184.42 L1170.42,183.41 L1172.18,182.41 L1173.95,181.42 L1175.73,180.45 L1177.51,179.48 L1179.30,178.52 L1181.10,177.58 L1182.91,176.64 L1184.72,175.71 L1186.54,174.80 L1188.36,173.89 L1190.19,172.99 L1192.03,172.10 L1193.87,171.23 L1195.72,170.36 L1197.57,169.50 L1199.43,168.65 L1201.29,167.81 L1203.16,166.98 L1205.03,166.15 L1206.91,165.34 L1208.79,164.53 L1210.68,163.74 L1212.57,162.95 L1214.46,162.17 L1216.36,161.40 L1218.26,160.64 L1220.16,159.89 L1222.07,159.14 L1223.98,158.40 L1225.89,157.68 L1227.80,156.96 L1229.72,156.24 L1231.64,155.54 L1233.56,154.84 L1235.48,154.15 L1237.41,153.47 L1239.34,152.79 L1241.26,152.13 L1243.19,151.46 L1245.13,150.81 L1247.06,150.16 L1248.99,149.52 L1250.93,148.89 L1252.86,148.26 L1254.80,147.64 L1256.74,147.02 L1258.68,146.42 L1260.62,145.81 L1262.56,145.21 L1264.50,144.62 L1266.44,144.03 L1268.38,143.45 L1270.32,142.88 L1272.26,142.30 L1274.20,141.74 L1276.15,141.17 L1278.09,140.62 L1280.03,140.06 L1281.97,139.51 L1283.91,138.97 L1285.85,138.43 L1287.79,137.89 L1289.73,137.36 L1291.67,136.83 L1293.61,136.30 L1295.54,135.78 L1297.48,135.26 L1299.41,134.74 L1301.34,134.23 L1303.27,133.72 L1305.20,133.21 L1307.13,132.70 L1309.06,132.20 L1310.98,131.69 L1312.91,131.19 L1314.83,130.70 L1316.75,130.20 L1318.67,129.71 L1320.58,129.21 L1322.49,128.72 L1324.40,128.23 L1326.31,127.74 L1328.22,127.25 L1330.12,126.77 L1332.02,126.28 L1333.91,125.79 L1335.81,125.31 L1337.70,124.82 L1339.59,124.33" stroke="#ff0000" stroke-width="1.6" fill="none"/>
<path d="M776.01,98.48 L777.95,98.96 L779.90,99.44 L781.85,99.92 L783.79,100.40 L785.74,100.87 L787.69,101.34 L789.65,101.81 L791.60,102.28 L793.55,102.74 L795.51,103.21 L797.46,103.68 L799.41,104.14 L801.37,104.61 L803.32,105.07 L805.28,105.54 L807.23,106.01 L809.19,106.48 L811.14,106.95 L813.10,107.43 L815.05,107.91 L817.01,108.39 L818.96,108.87 L820.91,109.35 L822.86,109.85 L824.81,110.34 L826.76,110.84 L828.70,111.34 L830.65,111.85 L832.59,112.36 L834.53,112.88 L836.47,113.41 L838.41,113.94 L840.34,114.48 L842.28,115.02 L844.21,115.58 L846.14,116.14 L848.06,116.71 L849.98,117.28 L851.90,117.87 L853.82,118.46 L855.73,119.06 L857.65,119.67 L859.55,120.30 L861.46,120.93 L863.36,121.57 L865.26,122.22 L867.15,122.87 L869.05,123.53 L870.94,124.21 L872.82,124.88 L874.71,125.56 L876.59,126.25 L878.48,126.95 L880.36,127.64 L882.24,128.34 L884.11,129.05 L885.99,129.76 L887.87,130.47 L889.74,131.18 L891.61,131.90 L893.49,132.61 L895.36,133.33 L897.23,134.04 L899.10,134.76 L900.97,135.48 L902.85,136.19 L904.72,136.90 L906.59,137.62 L908.46,138.33 L910.33,139.05 L912.20,139.77 L914.07,140.49 L915.94,141.21 L917.80,141.94 L919.66,142.67 L921.53,143.41 L923.38,144.15 L925.24,144.91 L927.09,145.66 L928.94,146.43 L930.79,147.21 L932.64,147.99 L934.48,148.79 L936.31,149.59 L938.15,150.40 L939.98,151.23 L941.80,152.06 L943.62,152.90 L945.44,153.75 L947.26,154.61 L949.07,155.47 L950.87,156.35 L952.68,157.24 L954.48,158.13 L956.27,159.04 L958.06,159.95 L959.84,160.87 L961.63,161.80 L963.40,162.74 L965.17,163.69 L966.94,164.65 L968.70,165.62 L970.46,166.59 L972.21,167.58 L973.96,168.57 L975.70,169.58 L977.44,170.59 L979.17,171.61 L980.90,172.64 L982.62,173.68 L984.34,174.72 L986.05,175.78 L987.75,176.85 L989.45,177.92 L991.15,179.00 L992.84,180.09 L994.52,181.20 L996.20,182.30 L997.87,183.42 L999.53,184.55 L1001.19,185.69 L1002.84,186.83 L1004.49,187.98 L1006.13,189.15 L1007.77,190.32 L1009.39,191.50 L1011.01,192.68 L1012.63,193.88 L1014.24,195.09 L1015.84,196.30 L1017.43,197.52 L1019.02,198.76 L1020.60,200.00 L1022.17,201.24 L1023.74,202.50 L1025.30,203.77 L1026.85,205.04 L1028.40,206.33 L1029.94,207.62 L1031.47,208.92 L1032.98,210.23 L1034.49,211.55 L1035.99,212.89 L1037.47,214.24 L1038.94,215.60 L1040.39,216.97 L1041.83,218.36 L1043.25,219.77 L1044.65,221.19 L1046.03,222.64 L1047.38,224.09 L1048.72,225.57 L1050.03,227.07 L1051.32,228.59 L1052.58,230.13 L1053.81,231.69 L1055.02,233.27 L1056.20,234.88 L1057.34,236.52 L1058.46,238.17 L1059.55,239.85 L1060.62,241.55 L1061.67,243.26 L1062.72,244.97 L1063.76,246.70 L1064.79,248.42 L1065.82,250.16 L1066.84,251.90 L1067.86,253.64 L1068.86,255.39 L1069.86,257.14 L1070.85,258.90 L1071.83,260.67 L1072.81,262.44 L1073.77,264.21 L1074.72,265.99 L1075.66,267.78 L1076.59,269.57 L1077.51,271.37 L1078.41,273.17 L1079.30,274.98 L1080.18,276.79 L1081.04,278.61 L1081.89,280.44 L1082.73,282.27 L1083.55,284.10 L1084.35,285.95 L1085.14,287.80 L1085.91,289.65 L1086.66,291.51 L1087.39,293.37 L1088.11,295.24 L1088.81,297.12 L1089.49,299.00 L1090.16,300.89 L1090.82,302.78 L1091.45,304.68 L1092.07,306.58 L1092.68,308.49 L1093.27,310.40 L1093.85,312.31 L1094.42,314.23 L1094.97,316.16 L1095.51,318.08 L1096.03,320.02 L1096.55,321.95 L1097.05,323.89 L1097.54,325.83 L1098.02,327.78 L1098.49,329.73 L1098.94,331.68 L1099.39,333.64 L1099.83,335.59 L1100.25,337.56 L1100.67,339.52 L1101.08,341.48 L1101.48,343.45 L1101.87,345.42 L1102.25,347.40 L1102.63,349.37 L1103.00,351.35 L1103.36,353.32 L1103.72,355.30 L1104.07,357.28 L1104.41,359.27 L1104.75,361.25 L1105.08,363.23 L1105.41,365.22 L1105.73,367.20 L1106.05,369.19 L1106.36,371.18 L1106.67,373.16 L1106.98,375.15 L1107.29,377.14 L1107.59,379.13 L1107.89,381.11 L1108.19,383.10 L1108.49,385.09 L1108.78,387.07 L1109.08,389.06 L1109.37,391.04 L1109.67,393.02 L1109.96,395.01" stroke="#99cc00" stroke-width="1.7" fill="none"/>
<path d="M1126.42,395.00 L1126.59,393.00 L1126.77,390.99 L1126.96,388.99 L1127.16,386.98 L1127.37,384.98 L1127.58,382.97 L1127.80,380.97 L1128.03,378.96 L1128.27,376.96 L1128.51,374.96 L1128.77,372.96 L1129.03,370.96 L1129.30,368.96 L1129.58,366.96 L1129.87,364.96 L1130.17,362.96 L1130.47,360.97 L1130.79,358.97 L1131.11,356.98 L1131.45,354.99 L1131.79,353.00 L1132.15,351.01 L1132.51,349.02 L1132.88,347.03 L1133.26,345.05 L1133.65,343.07 L1134.05,341.09 L1134.46,339.11 L1134.89,337.14 L1135.32,335.17 L1135.76,333.20 L1136.21,331.23 L1136.67,329.26 L1137.15,327.30 L1137.63,325.34 L1138.12,323.38 L1138.63,321.43 L1139.14,319.48 L1139.67,317.53 L1140.21,315.58 L1140.75,313.64 L1141.31,311.70 L1141.88,309.76 L1142.47,307.83 L1143.06,305.90 L1143.66,303.98 L1144.28,302.06 L1144.91,300.14 L1145.55,298.22 L1146.20,296.31 L1146.86,294.41 L1147.54,292.51 L1148.23,290.61 L1148.94,288.72 L1149.66,286.83 L1150.39,284.96 L1151.15,283.09 L1151.93,281.23 L1152.72,279.38 L1153.54,277.54 L1154.39,275.72 L1155.26,273.90 L1156.15,272.11 L1157.08,270.32 L1158.03,268.55 L1159.01,266.80 L1160.03,265.06 L1161.08,263.34 L1162.16,261.64 L1163.27,259.96 L1164.40,258.29 L1165.57,256.64 L1166.76,255.01 L1167.98,253.39 L1169.22,251.79 L1170.48,250.20 L1171.76,248.63 L1173.06,247.07 L1174.38,245.53 L1175.72,244.00 L1177.07,242.48 L1178.43,240.98 L1179.81,239.49 L1181.19,238.02 L1182.59,236.56 L1184.00,235.11 L1185.42,233.67 L1186.85,232.24 L1188.29,230.82 L1189.74,229.42 L1191.20,228.03 L1192.66,226.65 L1194.14,225.27 L1195.63,223.91 L1197.12,222.56 L1198.62,221.22 L1200.14,219.88 L1201.66,218.56 L1203.18,217.24 L1204.72,215.94 L1206.26,214.64 L1207.81,213.35 L1209.37,212.06 L1210.93,210.79 L1212.50,209.52 L1214.08,208.26 L1215.66,207.00 L1217.25,205.75 L1218.84,204.51 L1220.44,203.27 L1222.05,202.05 L1223.66,200.83 L1225.28,199.61 L1226.91,198.41 L1228.54,197.22 L1230.18,196.03 L1231.83,194.86 L1233.48,193.70 L1235.15,192.55 L1236.82,191.42 L1238.50,190.30 L1240.18,189.19 L1241.88,188.10 L1243.59,187.02 L1245.30,185.95 L1247.02,184.91 L1248.76,183.88 L1250.50,182.87 L1252.25,181.87 L1254.01,180.90 L1255.78,179.94 L1257.57,179.01 L1259.36,178.09 L1261.16,177.18 L1262.97,176.30 L1264.78,175.43 L1266.61,174.57 L1268.44,173.73 L1270.28,172.90 L1272.12,172.08 L1273.97,171.28 L1275.82,170.48 L1277.68,169.70 L1279.54,168.92 L1281.41,168.15 L1283.27,167.38 L1285.15,166.63 L1287.02,165.88 L1288.90,165.14 L1290.78,164.40 L1292.66,163.67 L1294.55,162.95 L1296.44,162.23 L1298.33,161.52 L1300.22,160.82 L1302.12,160.12 L1304.01,159.42 L1305.91,158.73 L1307.82,158.05 L1309.72,157.37 L1311.62,156.69 L1313.53,156.02 L1315.43,155.35 L1317.34,154.68 L1319.25,154.02 L1321.16,153.37 L1323.07,152.71 L1324.99,152.06 L1326.90,151.41 L1328.81,150.77 L1330.72,150.12 L1332.64,149.48 L1334.55,148.85 L1336.47,148.21 L1338.39,147.58 L1340.30,146.96 L1342.22,146.34 L1344.14,145.72 L1346.06,145.11 L1347.99,144.50 L1349.91,143.90 L1351.84,143.30 L1353.77,142.71 L1355.70,142.13 L1357.63,141.55 L1359.56,140.98 L1361.50,140.41 L1363.44,139.85 L1365.38,139.30 L1367.32,138.76 L1369.27,138.22 L1371.21,137.70 L1373.16,137.18 L1375.12,136.67 L1377.08,136.16 L1379.04,135.67 L1381.00,135.19" stroke="#99cc00" stroke-width="1.7" fill="none"/>
</g>
<ellipse cx="879.6" cy="126.5" rx="4" ry="4.5" fill="#99cc00"/>
<ellipse cx="1004.9" cy="187.6" rx="4" ry="4.5" fill="#99cc00"/>
<ellipse cx="1129.7" cy="369.1" rx="4" ry="4.5" fill="#99cc00"/>
<ellipse cx="1254.4" cy="180.3" rx="4" ry="4.5" fill="#99cc00"/>
<ellipse cx="1379.3" cy="135.6" rx="4" ry="4.5" fill="#99cc00"/>
<rect x="322.6" y="33.6" width="333.2" height="140.2" fill="#fff" stroke="#222" stroke-width="1.2"/>
<rect x="938.1" y="4.1" width="455" height="126.6" fill="#fff" stroke="#333" stroke-width="1.3"/>
<text transform="translate(393.68,59.50) scale(0.8724,1)" style="font-family:'Liberation Sans',sans-serif;font-weight:bold;stroke:#000;stroke-width:0.4px;font-size:24.60px;white-space:pre;word-spacing:1.834px" fill="#000">Simulated S11 (port 1)</text>
<text transform="translate(392.88,93.90) scale(0.8649,1)" style="font-family:'Liberation Sans',sans-serif;font-weight:bold;stroke:#000;stroke-width:0.4px;font-size:24.60px;white-space:pre;word-spacing:1.850px" fill="#000">Measured S11 (port 1)</text>
<text transform="translate(393.68,129.80) scale(0.8732,1)" style="font-family:'Liberation Sans',sans-serif;font-weight:bold;stroke:#000;stroke-width:0.4px;font-size:24.60px;white-space:pre;word-spacing:1.832px" fill="#000">Simulated S11 (port 2)</text>
<text transform="translate(392.88,163.90) scale(0.8649,1)" style="font-family:'Liberation Sans',sans-serif;font-weight:bold;stroke:#000;stroke-width:0.4px;font-size:24.60px;white-space:pre;word-spacing:1.850px" fill="#000">Measured S11 (port 2)</text>
<line x1="354.2" y1="51.2" x2="388.7" y2="51.2" stroke="#000080" stroke-width="2.6"/>
<line x1="354.2" y1="85.6" x2="388.7" y2="85.6" stroke="#ff0000" stroke-width="2.6"/>
<line x1="355.7" y1="121.5" x2="388.7" y2="121.5" stroke="#0b2b5b" stroke-width="2" stroke-dasharray="3.5 5.9"/>
<line x1="355.9" y1="155.6" x2="388.7" y2="155.6" stroke="#ff0000" stroke-width="2" stroke-dasharray="3.5 5.9"/>
<text transform="translate(974.77,31.30) scale(0.8840,1)" style="font-family:'Liberation Sans',sans-serif;font-weight:bold;stroke:#000;stroke-width:0.4px;font-size:24.70px;white-space:pre;word-spacing:1.697px" fill="#000">Simulated  S21 with SMP connector</text>
<text transform="translate(974.77,74.00) scale(0.8859,1)" style="font-family:'Liberation Sans',sans-serif;font-weight:bold;stroke:#000;stroke-width:0.4px;font-size:24.70px;white-space:pre;word-spacing:1.693px" fill="#000">Simulated  S21 without SMP connector</text>
<text transform="translate(972.95,117.00) scale(0.8762,1)" style="font-family:'Liberation Sans',sans-serif;font-weight:bold;stroke:#000;stroke-width:0.4px;font-size:24.70px;white-space:pre;word-spacing:1.712px" fill="#000">Measured S21</text>
<line x1="944.7" y1="22.4" x2="969.1" y2="22.4" stroke="#000080" stroke-width="2.6"/>
<line x1="944.7" y1="66.4" x2="969.1" y2="66.4" stroke="#ff0000" stroke-width="1.6"/>
<line x1="945.8" y1="108.6" x2="967.7" y2="108.6" stroke="#99cc00" stroke-width="1.8"/>
<ellipse cx="958.5" cy="110.6" rx="3.3" ry="3.3" fill="#99cc00"/>
<text transform="translate(53.36,32.63) scale(0.9200,1)" style="font-family:'Liberation Sans',sans-serif;font-weight:bold;stroke:#000;stroke-width:0.4px;font-size:25.40px;white-space:pre" fill="#000">0</text>
<text transform="translate(749.26,31.87) scale(0.9200,1)" style="font-family:'Liberation Sans',sans-serif;font-weight:bold;stroke:#000;stroke-width:0.4px;font-size:25.40px;white-space:pre" fill="#000">0</text>
<text transform="translate(32.58,123.76) scale(0.9200,1)" style="font-family:'Liberation Sans',sans-serif;font-weight:bold;stroke:#000;stroke-width:0.4px;font-size:25.40px;white-space:pre" fill="#000">-10</text>
<text transform="translate(728.48,123.35) scale(0.9200,1)" style="font-family:'Liberation Sans',sans-serif;font-weight:bold;stroke:#000;stroke-width:0.4px;font-size:25.40px;white-space:pre" fill="#000">-10</text>
<text transform="translate(32.58,215.05) scale(0.9200,1)" style="font-family:'Liberation Sans',sans-serif;font-weight:bold;stroke:#000;stroke-width:0.4px;font-size:25.40px;white-space:pre" fill="#000">-20</text>
<text transform="translate(728.48,215.23) scale(0.9200,1)" style="font-family:'Liberation Sans',sans-serif;font-weight:bold;stroke:#000;stroke-width:0.4px;font-size:25.40px;white-space:pre" fill="#000">-20</text>
<text transform="translate(32.58,306.20) scale(0.9200,1)" style="font-family:'Liberation Sans',sans-serif;font-weight:bold;stroke:#000;stroke-width:0.4px;font-size:25.40px;white-space:pre" fill="#000">-30</text>
<text transform="translate(728.48,306.00) scale(0.9200,1)" style="font-family:'Liberation Sans',sans-serif;font-weight:bold;stroke:#000;stroke-width:0.4px;font-size:25.40px;white-space:pre" fill="#000">-30</text>
<text transform="translate(32.58,398.20) scale(0.9200,1)" style="font-family:'Liberation Sans',sans-serif;font-weight:bold;stroke:#000;stroke-width:0.4px;font-size:25.40px;white-space:pre" fill="#000">-40</text>
<text transform="translate(728.48,398.30) scale(0.9200,1)" style="font-family:'Liberation Sans',sans-serif;font-weight:bold;stroke:#000;stroke-width:0.4px;font-size:25.40px;white-space:pre" fill="#000">-40</text>
<text transform="translate(68.12,437.30) scale(0.9100,1)" style="font-family:'Liberation Sans',sans-serif;font-weight:bold;stroke:#000;stroke-width:0.4px;font-size:25.40px;white-space:pre" fill="#000">7.9</text>
<text transform="translate(763.47,436.80) scale(0.9350,1)" style="font-family:'Liberation Sans',sans-serif;font-weight:bold;stroke:#000;stroke-width:0.4px;font-size:25.40px;white-space:pre" fill="#000">7.9</text>
<text transform="translate(174.61,437.30) scale(0.9100,1)" style="font-family:'Liberation Sans',sans-serif;font-weight:bold;stroke:#000;stroke-width:0.4px;font-size:25.40px;white-space:pre" fill="#000">8</text>
<text transform="translate(873.78,436.80) scale(0.9350,1)" style="font-family:'Liberation Sans',sans-serif;font-weight:bold;stroke:#000;stroke-width:0.4px;font-size:25.40px;white-space:pre" fill="#000">8</text>
<text transform="translate(261.79,437.30) scale(0.9100,1)" style="font-family:'Liberation Sans',sans-serif;font-weight:bold;stroke:#000;stroke-width:0.4px;font-size:25.40px;white-space:pre" fill="#000">8.1</text>
<text transform="translate(963.15,436.80) scale(0.9350,1)" style="font-family:'Liberation Sans',sans-serif;font-weight:bold;stroke:#000;stroke-width:0.4px;font-size:25.40px;white-space:pre" fill="#000">8.1</text>
<text transform="translate(358.33,437.30) scale(0.9100,1)" style="font-family:'Liberation Sans',sans-serif;font-weight:bold;stroke:#000;stroke-width:0.4px;font-size:25.40px;white-space:pre" fill="#000">8.2</text>
<text transform="translate(1062.59,436.80) scale(0.9350,1)" style="font-family:'Liberation Sans',sans-serif;font-weight:bold;stroke:#000;stroke-width:0.4px;font-size:25.40px;white-space:pre" fill="#000">8.2</text>
<text transform="translate(456.58,437.30) scale(0.9100,1)" style="font-family:'Liberation Sans',sans-serif;font-weight:bold;stroke:#000;stroke-width:0.4px;font-size:25.40px;white-space:pre" fill="#000">8.3</text>
<text transform="translate(1163.45,436.80) scale(0.9350,1)" style="font-family:'Liberation Sans',sans-serif;font-weight:bold;stroke:#000;stroke-width:0.4px;font-size:25.40px;white-space:pre" fill="#000">8.3</text>
<text transform="translate(552.63,437.30) scale(0.9100,1)" style="font-family:'Liberation Sans',sans-serif;font-weight:bold;stroke:#000;stroke-width:0.4px;font-size:25.40px;white-space:pre" fill="#000">8.4</text>
<text transform="translate(1262.78,436.80) scale(0.9350,1)" style="font-family:'Liberation Sans',sans-serif;font-weight:bold;stroke:#000;stroke-width:0.4px;font-size:25.40px;white-space:pre" fill="#000">8.4</text>
<text transform="translate(650.14,437.30) scale(0.9100,1)" style="font-family:'Liberation Sans',sans-serif;font-weight:bold;stroke:#000;stroke-width:0.4px;font-size:25.40px;white-space:pre" fill="#000">8.5</text>
<text transform="translate(1362.75,436.80) scale(0.9350,1)" style="font-family:'Liberation Sans',sans-serif;font-weight:bold;stroke:#000;stroke-width:0.4px;font-size:25.40px;white-space:pre" fill="#000">8.5</text>
<text transform="translate(288.64,469.60) scale(0.8502,1)" style="font-family:'Liberation Sans',sans-serif;font-weight:bold;stroke:#000;stroke-width:0.4px;font-size:25.60px;white-space:pre;word-spacing:1.764px" fill="#000">Frequency (GHz)</text>
<text transform="translate(984.61,469.20) scale(0.9417,1)" style="font-family:'Liberation Sans',sans-serif;font-weight:bold;stroke:#000;stroke-width:0.4px;font-size:25.20px;white-space:pre;word-spacing:1.593px" fill="#000">Frequency (GHz)</text>
<text transform="translate(21.40,319.20) rotate(-90) scale(1,0.8250)" style="font-family:'Liberation Sans',sans-serif;font-weight:bold;stroke:#000;stroke-width:0.4px;font-size:26.90px;white-space:pre" fill="#000">Return Loss  (dB)</text>
<text transform="translate(719.10,277.04) rotate(-90) scale(1,0.8330)" style="font-family:'Liberation Sans',sans-serif;font-weight:bold;stroke:#000;stroke-width:0.4px;font-size:26.30px;white-space:pre" fill="#000">isolation (dB)</text>
<text transform="translate(357.64,506.14) scale(0.9524,0.93)" style="font-family:'Liberation Serif',serif;font-size:30.00px">(</text><text transform="translate(367.16,507.60) scale(0.9524,1)" style="font-family:'Liberation Serif',serif;font-size:30.00px">a</text><text transform="translate(379.84,506.14) scale(0.9524,0.93)" style="font-family:'Liberation Serif',serif;font-size:30.00px">)</text>
<text transform="translate(1066.79,506.14) scale(0.9554,0.93)" style="font-family:'Liberation Serif',serif;font-size:30.00px">(</text><text transform="translate(1076.33,507.60) scale(0.9554,1)" style="font-family:'Liberation Serif',serif;font-size:30.00px">b</text><text transform="translate(1090.67,506.14) scale(0.9554,0.93)" style="font-family:'Liberation Serif',serif;font-size:30.00px">)</text>
</g>
</svg>
</body></html>
